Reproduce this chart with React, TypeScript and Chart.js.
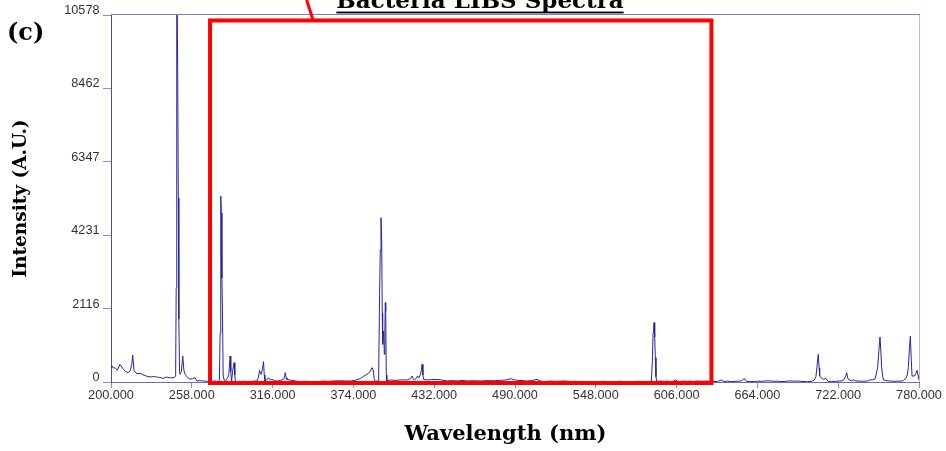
import { useEffect, useRef } from 'react';
import { Chart, registerables } from 'chart.js';

Chart.register(...registerables);

// ---- data ----
const wavelengths = [
  200.0, 200.8, 201.7, 202.9, 204.5, 206.5, 208.9, 210.5, 212.4, 213.7, 214.9, 215.6, 216.5, 218.5, 220.8,
  223.2, 225.5, 228.0, 230.5, 232.8, 235.0, 237.6, 240.0, 242.0, 243.6, 245.5, 246.4, 246.8, 247.2, 247.9,
  248.3, 248.7, 249.2, 249.6, 250.5, 251.5, 252.3, 253.2, 255.0, 256.8, 258.5, 260.4, 261.6, 264.0, 266.3,
  269.0, 271.1, 273.0, 274.7, 276.0, 277.1, 277.8, 278.3, 278.8, 279.2, 279.6, 280.0, 280.5, 281.2, 282.2,
  283.5, 284.6, 285.5, 286.0, 286.5, 287.5, 288.4, 288.9, 289.3, 291.0, 292.7, 296.0, 299.9, 302.5, 304.7,
  305.8, 306.6, 307.3, 307.8, 308.8, 309.5, 310.0, 310.5, 311.8, 313.1, 314.3, 315.5, 317.3, 319.1, 321.5,
  323.8, 324.6, 325.1, 325.7, 326.3, 328.0, 329.9, 332.8, 335.8, 340.0, 344.0, 347.8, 352.0, 356.0, 359.8,
  364.0, 368.0, 371.8, 375.5, 379.0, 381.5, 383.8, 386.0, 387.4, 388.2, 389.0, 389.7, 391.0, 392.1, 392.8,
  393.3, 393.8, 394.3, 394.7, 395.0, 395.7, 396.2, 396.6, 396.9, 397.2, 397.6, 398.0, 400.5, 404.0, 408.0,
  412.5, 415.0, 416.1, 417.0, 417.8, 419.0, 420.1, 421.0, 422.1, 422.8, 423.3, 423.9, 424.4, 427.0, 430.0,
  434.1, 437.5, 441.3, 445.0, 449.0, 452.0, 455.6, 460.0, 465.2, 470.0, 475.0, 479.6, 483.5, 486.8, 489.0,
  491.6, 495.0, 498.8, 502.0, 505.9, 508.0, 510.7, 515.0, 520.0, 525.1, 530.0, 533.0, 537.1, 541.0, 545.0,
  549.1, 553.0, 557.0, 561.0, 565.0, 569.0, 572.0, 575.4, 579.0, 582.0, 585.0, 587.0, 587.9, 588.6, 589.1,
  589.5, 589.8, 590.3, 590.7, 591.2, 591.7, 593.0, 594.6, 597.0, 599.0, 601.8, 603.5, 605.4, 606.5, 607.8,
  610.0, 613.0, 616.0, 618.0, 621.0, 624.0, 628.1, 630.0, 632.0, 635.3, 638.2, 640.1, 642.5, 644.9, 648.0,
  651.0, 653.0, 654.5, 656.2, 659.0, 661.7, 664.0, 667.0, 670.0, 673.7, 676.0, 678.0, 680.9, 684.0, 687.0,
  690.0, 692.8, 696.0, 700.0, 703.0, 704.8, 706.0, 706.7, 707.7, 708.3, 708.7, 710.1, 711.5, 713.2, 714.9,
  717.0, 720.0, 722.0, 724.0, 726.0, 727.3, 728.1, 728.8, 729.9, 731.5, 733.0, 734.7, 737.0, 740.0, 743.1,
  744.3, 746.5, 748.5, 750.3, 751.2, 752.0, 752.6, 753.2, 754.0, 754.6, 756.5, 758.7, 762.0, 765.0, 768.3,
  770.6, 771.6, 772.3, 773.2, 773.8, 774.4, 775.0, 776.7, 777.8, 778.6, 779.3, 780.0,
];

const intensities = [
  380, 460, 400, 412, 337, 510, 366, 300, 269, 317, 510, 778, 337, 240, 250,
  202, 170, 144, 160, 144, 130, 106, 144, 120, 125, 125, 180, 2718, 12500, 8819,
  5300, 1815, 300, 221, 300, 749, 350, 221, 130, 77, 100, 125, 29, 40, 29,
  20, 5, 20, 29, 15, 5, 60, 1393, 5360, 4870, 3000, 2100, 200, 60, 29,
  100, 221, 749, 300, 5, 366, 557, 200, 5, 10, 10, 20, 10, 25, 29,
  120, 337, 250, 221, 400, 586, 200, 29, 60, 125, 60, 77, 40, 29, 40,
  77, 150, 269, 120, 77, 60, 48, 25, 10, 20, 15, 10, 25, 20, 29,
  35, 30, 29, 50, 100, 170, 221, 300, 413, 350, 80, 29, 25, 29, 2527,
  3800, 4735, 4064, 2000, 1087, 1470, 798, 1500, 2286, 2046, 200, 29, 58, 45, 60,
  58, 100, 173, 90, 58, 100, 173, 120, 221, 350, 509, 200, 77, 60, 70,
  77, 55, 29, 40, 30, 45, 29, 35, 29, 40, 35, 48, 60, 96, 70,
  48, 40, 29, 40, 77, 30, 10, 25, 20, 29, 15, 20, 10, 15, 10,
  10, 20, 10, 10, 20, 10, 15, 10, 20, 10, 10, 20, 29, 600, 1421,
  1550, 1710, 1300, 700, 150, 29, 20, 29, 15, 25, 10, 20, 58, 25, 10,
  25, 20, 25, 15, 29, 20, 29, 15, 20, 10, 58, 10, 25, 10, 20,
  25, 40, 106, 10, 15, 10, 25, 20, 30, 29, 20, 25, 10, 20, 30,
  25, 29, 15, 10, 20, 58, 150, 413, 798, 400, 173, 106, 80, 106, 10,
  20, 15, 25, 29, 60, 150, 269, 120, 58, 40, 58, 29, 25, 20, 29,
  58, 60, 90, 413, 900, 1297, 900, 413, 150, 58, 40, 29, 20, 25, 29,
  106, 200, 413, 1000, 1326, 700, 173, 173, 250, 336, 200, 58,
];

const xTickValues = [200, 258, 316, 374, 432, 490, 548, 606, 664, 722, 780];
const yTickValues = [0, 2116, 4231, 6347, 8462, 10578];

// highlight box and pointer (in data units: nm, intensity)
const highlightBox = { x0: 271.1, x1: 631.0, y0: -29, y1: 10420 };
const pointerLine = { x0: 340.4, y0: 11010, x1: 345.2, y1: 10420 };

const chartTitle = 'Bacteria LIBS Spectra';
const panelLabel = '(c)';
const xTitle = 'Wavelength (nm)';
const yTitle = 'Intensity (A.U.)';

const overlayPlugin = {
  id: 'overlay',
  afterDraw(chart: any) {
    const { ctx, chartArea: a, scales } = chart;
    const xs = scales.x;
    const ys = scales.y;
    ctx.save();
    // frame: top and right
    ctx.lineWidth = 1;
    ctx.strokeStyle = '#7d7dc0';
    ctx.beginPath();
    ctx.moveTo(a.left, a.top - 0.5);
    ctx.lineTo(a.right + 1, a.top - 0.5);
    ctx.stroke();
    ctx.strokeStyle = '#b4b4dc';
    ctx.beginPath();
    ctx.moveTo(a.right + 0.5, a.top);
    ctx.lineTo(a.right + 0.5, a.bottom);
    ctx.stroke();

    // red highlight box
    const bx0 = xs.getPixelForValue(highlightBox.x0);
    const bx1 = xs.getPixelForValue(highlightBox.x1);
    const by0 = ys.getPixelForValue(highlightBox.y0);
    const by1 = ys.getPixelForValue(highlightBox.y1);
    ctx.strokeStyle = '#ff0000';
    ctx.lineWidth = 4;
    ctx.strokeRect(bx0, by1, bx1 - bx0, by0 - by1);

    // pointer line
    ctx.lineWidth = 3;
    ctx.beginPath();
    ctx.moveTo(xs.getPixelForValue(pointerLine.x0), ys.getPixelForValue(pointerLine.y0));
    ctx.lineTo(xs.getPixelForValue(pointerLine.x1), ys.getPixelForValue(pointerLine.y1));
    ctx.stroke();

    // texts
    ctx.fillStyle = '#000000';
    ctx.textBaseline = 'alphabetic';
    ctx.font = 'bold 23px "DejaVu Serif"';
    ctx.textAlign = 'center';
    const tcx = 480;
    ctx.fillText(chartTitle, tcx, 8);
    const tw = ctx.measureText(chartTitle).width;
    ctx.fillRect(tcx - tw / 2, 11.6, tw, 1.8);

    ctx.font = 'bold 24px "DejaVu Serif"';
    ctx.textAlign = 'left';
    ctx.fillText(panelLabel, 7, 40);

    ctx.font = 'bold 21px "DejaVu Serif"';
    ctx.textAlign = 'center';
    ctx.fillText(xTitle, 505.5, 440);
    ctx.restore();
  },
};

export default function App() {
  const ref = useRef<HTMLCanvasElement | null>(null);

  useEffect(() => {
    if (!ref.current) return;
    const tickFont = { family: '"Liberation Sans", Arial, sans-serif', size: 12.7 };
    const chart = new Chart(ref.current, {
      type: 'line',
      data: {
        datasets: [
          {
            data: wavelengths.map((x, i) => ({ x, y: intensities[i] })),
            borderColor: '#26269a',
            borderWidth: 1,
            pointRadius: 0,
            tension: 0,
            fill: false,
          },
        ],
      },
      options: {
        animation: false,
        responsive: true,
        maintainAspectRatio: false,
        layout: { padding: { left: 0, right: 27, top: 15, bottom: 0 } },
        plugins: {
          legend: { display: false },
          tooltip: { enabled: false },
        },
        scales: {
          x: {
            type: 'linear',
            min: 200,
            max: 780,
            afterBuildTicks: (s: any) => {
              s.ticks = xTickValues.map((v) => ({ value: v }));
            },
            afterFit: (s: any) => {
              s.height = 69;
            },
            ticks: {
              callback: (v: any) => Number(v).toFixed(3),
              color: '#333333',
              font: tickFont,
              padding: 0,
              maxRotation: 0,
              autoSkip: false,
            },
            grid: {
              drawOnChartArea: false,
              drawTicks: true,
              tickLength: 6,
              tickColor: '#8a8ac8',
            },
            border: { color: '#6c6cb4', width: 1 },
          },
          y: {
            type: 'linear',
            min: 0,
            max: 10578,
            afterBuildTicks: (s: any) => {
              s.ticks = yTickValues.map((v) => ({ value: v }));
            },
            afterFit: (s: any) => {
              s.width = 111;
            },
            ticks: {
              callback: (v: any) => String(v),
              color: '#333333',
              font: tickFont,
              padding: 3.5,
              labelOffset: -4.5,
              autoSkip: false,
            },
            grid: {
              drawOnChartArea: false,
              drawTicks: true,
              tickLength: 8,
              tickColor: '#8a8ac8',
            },
            border: { color: '#4c4ca8', width: 1 },
            title: {
              display: true,
              text: yTitle,
              color: '#000000',
              font: { family: '"DejaVu Serif"', weight: 'bold', size: 18.5, lineHeight: 1.2 },
              padding: { top: 10, bottom: 0 },
            },
          },
        },
      },
      plugins: [overlayPlugin],
    } as any);
    return () => chart.destroy();
  }, []);

  return (
    <div style={{ position: 'absolute', left: 0, top: 0, width: 946, height: 451 }}>
      <canvas ref={ref} />
    </div>
  );
}
